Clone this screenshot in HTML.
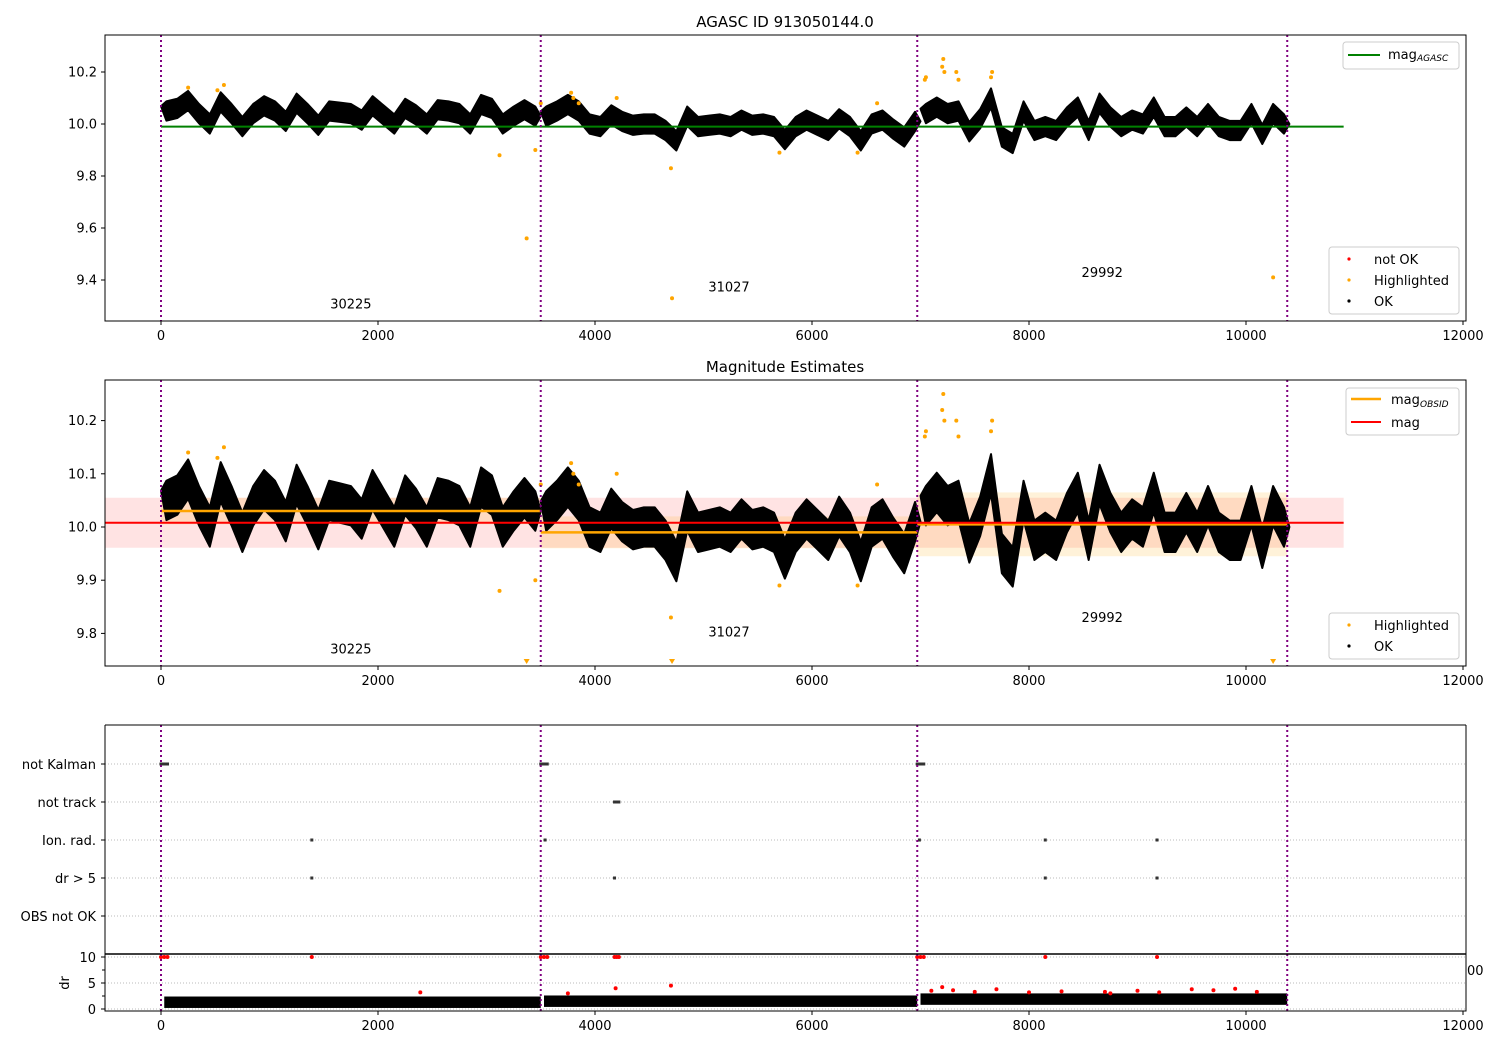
<!DOCTYPE html>
<html><head><meta charset="utf-8">
<style>
body{margin:0;background:#fff;}
svg{display:block;font-family:"DejaVu Sans","Liberation Sans",sans-serif;}
</style></head>
<body>
<svg id="chart" width="1500" height="1050" viewBox="0 0 1500 1050" xmlns="http://www.w3.org/2000/svg"></svg>
<script>
// ---- data ----
const binTimes = [0,100,200,300,400,500,600,700,800,900,1000,1100,1200,1300,1400,1500,1600,1700,1800,1900,2000,2100,2200,2300,2400,2500,2600,2700,2800,2900,3000,3100,3200,3300,3400,
3500,3600,3700,3800,3900,4000,4100,4200,4300,4400,4500,4600,4700,4800,4900,5000,5100,5200,5300,5400,5500,5600,5700,5800,5900,6000,6100,6200,6300,6400,6500,6600,6700,6800,6900,
7000,7100,7200,7300,7400,7500,7600,7700,7800,7900,8000,8100,8200,8300,8400,8500,8600,8700,8800,8900,9000,9100,9200,9300,9400,9500,9600,9700,9800,9900,10000,10100,10200,10300];
const binMags = [10.05,10.06,10.09,10.04,10.0,10.085,10.04,9.99,10.04,10.07,10.05,10.01,10.08,10.04,9.995,10.05,10.045,10.04,10.015,10.07,10.035,10.0,10.06,10.035,10.0,10.055,10.05,10.04,10.0,10.075,10.06,10.0,10.03,10.055,10.03,
10.03,10.05,10.075,10.05,10.0,9.99,10.035,10.01,9.995,10.0,10.0,9.975,9.935,10.03,9.99,9.995,10.0,9.99,10.015,9.995,10.0,9.99,9.94,9.99,10.015,9.995,9.975,10.02,9.99,9.935,10.0,10.015,9.98,9.95,10.01,
10.04,10.065,10.04,10.05,9.97,10.02,10.1,9.95,9.925,10.05,9.975,9.99,9.975,10.027,10.065,9.975,10.08,10.027,9.99,10.015,10.0,10.065,9.99,9.99,10.027,9.99,10.04,9.99,9.975,9.975,10.04,9.96,10.04,10.0];
const segStarts = [0,35,70]; // bin index where each obsid segment begins
const binSpread = 0.037;
const hlTimes = [250,520,580,3120,3370,3450,3500,3780,3800,3850,4200,4700,4710,5700,6420,6600,7040,7050,7200,7210,7220,7330,7350,7650,7660,10250];
const hlMags  = [10.14,10.13,10.15,9.88,9.56,9.9,10.08,10.12,10.1,10.08,10.1,9.83,9.33,9.89,9.89,10.08,10.17,10.18,10.22,10.25,10.2,10.2,10.17,10.18,10.2,9.41];
const obsids = ["30225","31027","29992"];
const obsStart = [0,3500,6970];
const obsEnd = [3500,6970,10380];
const obsMag = [10.03,9.99,10.005];
const obsStd = [0.025,0.03,0.06];
const obsLabelMag = [9.31,9.375,9.43];
const agascMag = 9.99;
const meanMag = 10.008;
const meanStd = 0.047;
const flagNames = ["not Kalman","not track","Ion. rad.","dr > 5","OBS not OK"];
const flagTimes = [[0,20,40,60,3500,3520,3540,3560,6970,6990,7010,7030],[4180,4200,4220],[1390,3540,6990,8150,9180],[1390,4180,8150,9180],[]];
const drBinMid = [1.3,1.5,1.9]; // per segment
const drRedTimes = [0,30,60,1390,3500,3530,3560,4180,4200,4220,6970,7000,7030,8150,9180,2390,3750,4190,4700,7100,7200,7300,7500,7700,8000,8300,8700,8750,9000,9200,9500,9700,9900,10100];
const drRedVals  = [10,10,10,10,10,10,10,10,10,10,10,10,10,10,10,3.2,3.0,4.0,4.5,3.5,4.2,3.6,3.3,3.8,3.2,3.4,3.3,3.0,3.5,3.2,3.8,3.6,3.9,3.3];
const xTicks = [0,2000,4000,6000,8000,10000,12000];
const topYTicks = [9.4,9.6,9.8,10.0,10.2];
const midYTicks = [9.8,9.9,10.0,10.1,10.2];
const drYTicks = [0,5,10];

// ---- axes ----
const L=105,R=1466;
const xs = v => 161 + v*0.1085;
const yTop = v => 124 - (v-10)*260;
const yMid = v => 527 - (v-10)*532;
const yDr = v => 1009 - v*5.2;
const flagY = i => 764 + i*38;
const NS="http://www.w3.org/2000/svg";
const svg=document.getElementById('chart');
function el(tag,attrs,parent){const e=document.createElementNS(NS,tag);for(const k in attrs)e.setAttribute(k,attrs[k]);(parent||svg).appendChild(e);return e;}
function txt(s,attrs,parent){const e=el('text',attrs,parent);e.textContent=s;return e;}

function clip(id,y0,y1){const c=el('clipPath',{id:id});el('rect',{x:L,y:y0,width:R-L,height:y1-y0},c);}
clip('cTop',35,321);clip('cMid',380,666);clip('cDr',954,1011);

function xAxis(yb){
  xTicks.forEach(t=>{const x=xs(t);
    const tk=el('line',{x1:x,x2:x,y1:yb,y2:yb+4,stroke:'#000','stroke-width':1});
    
    const lb=txt(String(t),{x:x,y:yb+19,'font-size':13,'text-anchor':'middle'});
    
  });
}
function yAxis(ticks,fy){
  ticks.forEach(t=>{const y=fy(t);
    el('line',{x1:L-4,x2:L,y1:y,y2:y,stroke:'#000'});
    const lb=txt(t.toFixed(1),{x:L-8,y:y+4.5,'font-size':13,'text-anchor':'end'});
    
  });
}
function vlines(y0,y1){
  obsStart.concat([obsEnd[obsEnd.length-1]]).forEach(t=>{
    const l=el('line',{x1:xs(t),x2:xs(t),y1:y0,y2:y1,stroke:'purple','stroke-width':2,'stroke-dasharray':'2,3'});
    
  });
}
function band(fy,g){
  for(let s=0;s<segStarts.length;s++){
    const a=segStarts[s],b=(s+1<segStarts.length?segStarts[s+1]:binTimes.length);
    let up=[],lo=[];
    for(let i=a;i<b;i++){const x=xs(binTimes[i]+50);up.push(x+','+fy(binMags[i]+binSpread));lo.unshift(x+','+fy(binMags[i]-binSpread));}
    up.unshift(xs(binTimes[a])+','+fy(binMags[a]+binSpread*0.5));
    up.push(xs(binTimes[b-1]+100)+','+fy(binMags[b-1]));
    const p=el('polygon',{points:up.concat(lo).join(' '),fill:'#000',stroke:'#000','stroke-width':2,'stroke-linejoin':'round'},g);
    
  }
}
function frame(y0,y1,name){const r=el('rect',{x:L,y:y0,width:R-L,height:y1-y0,fill:'none',stroke:'#000','stroke-width':1});}

// ---- top panel ----
txt('AGASC ID 913050144.0',{x:785,y:27,'font-size':15,'text-anchor':'middle',});
const gT=el('g',{'clip-path':'url(#cTop)'});
band(yTop,gT);
hlTimes.forEach((t,i)=>{const c=el('circle',{cx:xs(t),cy:yTop(hlMags[i]),r:2,fill:'orange'},gT);});
el('line',{x1:xs(0),x2:xs(10900),y1:yTop(agascMag),y2:yTop(agascMag),stroke:'green','stroke-width':2,},gT);
obsids.forEach((o,i)=>{txt(o,{x:xs((obsStart[i]+obsEnd[i])/2),y:yTop(obsLabelMag[i])+5,'font-size':13,'text-anchor':'middle',});});
vlines(35,321);
frame(35,321,'top-plot-area');xAxis(321);yAxis(topYTicks,yTop);
// legends
el('rect',{x:1343,y:42,width:116,height:27,rx:3,fill:'#fff',stroke:'#ccc',});
el('line',{x1:1348,x2:1380,y1:55,y2:55,stroke:'green','stroke-width':2});
txt('mag',{x:1388,y:59,'font-size':13,});
txt('AGASC',{x:1417,y:61,'font-size':9,'font-style':'italic'});
el('rect',{x:1329,y:247,width:130,height:67,rx:3,fill:'#fff',stroke:'#ccc',});
[['not OK','red',259],['Highlighted','orange',280],['OK','black',301]].forEach(a=>{el('circle',{cx:1349,cy:a[2],r:1.6,fill:a[1]});txt(a[0],{x:1374,y:a[2]+5,'font-size':13,});});

// ---- middle panel ----
txt('Magnitude Estimates',{x:785,y:372,'font-size':15,'text-anchor':'middle',});
const gM=el('g',{'clip-path':'url(#cMid)'});
el('rect',{x:L,y:yMid(meanMag+meanStd),width:xs(10900)-L,height:yMid(meanMag-meanStd)-yMid(meanMag+meanStd),fill:'red','fill-opacity':0.11,},gM);
obsStart.forEach((s,i)=>{el('rect',{x:xs(s),y:yMid(obsMag[i]+obsStd[i]),width:xs(obsEnd[i])-xs(s),height:yMid(obsMag[i]-obsStd[i])-yMid(obsMag[i]+obsStd[i]),fill:'orange','fill-opacity':0.15,},gM);});
band(yMid,gM);
hlTimes.forEach((t,i)=>{
  if(hlMags[i]<9.738){const x=xs(t),y=663;const p=el('polygon',{points:`${x-3},${y-4} ${x+3},${y-4} ${x},${y+1}`,fill:'orange'},svg);}
  else{const c=el('circle',{cx:xs(t),cy:yMid(hlMags[i]),r:2,fill:'orange'},gM);}
});
obsStart.forEach((s,i)=>{el('line',{x1:xs(s),x2:xs(obsEnd[i]),y1:yMid(obsMag[i]),y2:yMid(obsMag[i]),stroke:'orange','stroke-width':2.5,},gM);});
el('line',{x1:L,x2:xs(10900),y1:yMid(meanMag),y2:yMid(meanMag),stroke:'red','stroke-width':2,},gM);
obsids.forEach((o,i)=>{txt(o,{x:xs((obsStart[i]+obsEnd[i])/2),y:yTop(obsLabelMag[i])+350,'font-size':13,'text-anchor':'middle',});});
vlines(380,666);
frame(380,666,'middle-plot-area');xAxis(666);yAxis(midYTicks,yMid);
el('rect',{x:1346,y:388,width:113,height:47,rx:3,fill:'#fff',stroke:'#ccc',});
el('line',{x1:1351,x2:1381,y1:399,y2:399,stroke:'orange','stroke-width':2.5});
txt('mag',{x:1391,y:404,'font-size':13,});txt('OBSID',{x:1420,y:407,'font-size':9,'font-style':'italic'});
el('line',{x1:1351,x2:1381,y1:422,y2:422,stroke:'red','stroke-width':2});
txt('mag',{x:1391,y:427,'font-size':13,});
el('rect',{x:1329,y:613,width:130,height:46,rx:3,fill:'#fff',stroke:'#ccc',});
[['Highlighted','orange',625],['OK','black',646]].forEach(a=>{el('circle',{cx:1349,cy:a[2],r:1.6,fill:a[1]});txt(a[0],{x:1374,y:a[2]+5,'font-size':13,});});

// ---- flags panel ----
txt('00',{x:1467,y:975,'font-size':13,});
flagNames.forEach((n,i)=>{const y=flagY(i);
  el('line',{x1:L,x2:R,y1:y,y2:y,stroke:'#bbb','stroke-dasharray':'1,2'});
  el('line',{x1:L-4,x2:L,y1:y,y2:y,stroke:'#000'});
  txt(n,{x:L-9,y:y+5,'font-size':13,'text-anchor':'end',});
  flagTimes[i].forEach(t=>{const r=el('rect',{x:xs(t)-1.5,y:y-1.5,width:3,height:3,fill:'#333'});});
});
vlines(725,954);
el('line',{x1:L,x2:L,y1:725,y2:954,stroke:'#000'});el('line',{x1:R,x2:R,y1:725,y2:954,stroke:'#000'});el('line',{x1:L,x2:R,y1:725,y2:725,stroke:'#000'});

// ---- dr panel ----
const gD=el('g',{'clip-path':'url(#cDr)'});
drYTicks.forEach(t=>{const y=yDr(t);el('line',{x1:L,x2:R,y1:y,y2:y,stroke:'#bbb','stroke-dasharray':'1,2'},gD);});
[2.5,7.5].forEach(t=>el('line',{x1:L-3,x2:L,y1:yDr(t),y2:yDr(t),stroke:'#000'}));
obsStart.forEach((s,i)=>{const r=el('rect',{x:xs(s+30),y:yDr(drBinMid[i]+1.1),width:xs(obsEnd[i])-xs(s+30),height:yDr(drBinMid[i]-1.1)-yDr(drBinMid[i]+1.1),fill:'#000'},gD);});
drRedTimes.forEach((t,i)=>{const c=el('circle',{cx:xs(t),cy:yDr(drRedVals[i]),r:2,fill:'red'},gD);});
vlines(954,1011);
frame(954,1011,'dr-plot-area');xAxis(1011);
drYTicks.forEach(t=>{const y=yDr(t);el('line',{x1:L-4,x2:L,y1:y,y2:y,stroke:'#000'});txt(String(t),{x:L-9,y:y+5,'font-size':13,'text-anchor':'end',});});
txt('dr',{x:0,y:0,'font-size':13,'text-anchor':'middle',transform:'translate(69,983) rotate(-90)',});
el('line',{x1:L,x2:R,y1:954,y2:954,stroke:'#000','stroke-width':1.5});
</script>
</body></html>
